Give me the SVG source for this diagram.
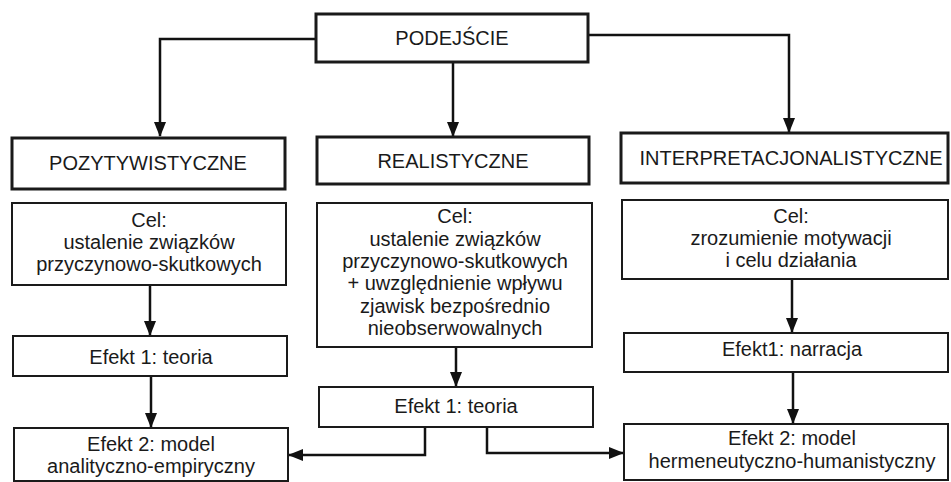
<svg xmlns="http://www.w3.org/2000/svg" width="951" height="482" viewBox="0 0 951 482">
<defs>
<marker id="ah" markerWidth="15" markerHeight="12" refX="14" refY="6" orient="auto" markerUnits="userSpaceOnUse" viewBox="0 0 15 12">
<path d="M0,0 L15,6 L0,12 Z" fill="#111"/>
</marker>
<style>
.box{fill:#fff;stroke:#1a1a1a;stroke-width:2}
.top{fill:#fff;stroke:#1a1a1a;stroke-width:3}
.t{font-family:"Liberation Sans",Arial,sans-serif;font-size:20px;fill:#1a1a1a;text-anchor:middle}
.c{fill:none;stroke:#111;stroke-width:2.5}
</style>
</defs>
<rect width="951" height="482" fill="#fff"/>
<g id="connectors">
<path class="c" d="M316,39 H160 V136" marker-end="url(#ah)"/>
<path class="c" d="M453,62 V136" marker-end="url(#ah)"/>
<path class="c" d="M588,35 H789 V132" marker-end="url(#ah)"/>
<path class="c" d="M150,285 V335" marker-end="url(#ah)"/>
<path class="c" d="M151,376 V427" marker-end="url(#ah)"/>
<path class="c" d="M456,347 V386" marker-end="url(#ah)"/>
<path class="c" d="M792,279 V332" marker-end="url(#ah)"/>
<path class="c" d="M793,372 V423" marker-end="url(#ah)"/>
<path class="c" d="M425,427 V455 H289" marker-end="url(#ah)"/>
<path class="c" d="M487,427 V453 H623" marker-end="url(#ah)"/>
</g>
<g id="podejscie">
<rect class="top" x="316" y="14" width="272" height="48"/>
<text class="t" x="452" y="45">PODEJŚCIE</text>
</g>
<g id="pozytywistyczne">
<rect class="top" x="12" y="138" width="273" height="51"/>
<text class="t" x="148" y="170">POZYTYWISTYCZNE</text>
</g>
<g id="realistyczne">
<rect class="top" x="317" y="137" width="272" height="47"/>
<text class="t" x="453" y="168">REALISTYCZNE</text>
</g>
<g id="interpretacjonalistyczne">
<rect class="top" x="621" y="133" width="327" height="50"/>
<text class="t" x="791" y="165">INTERPRETACJONALISTYCZNE</text>
</g>
<g id="cel-poz">
<rect class="box" x="12" y="203" width="274" height="82"/>
<text class="t" x="149" y="227">Cel:</text>
<text class="t" x="149" y="249">ustalenie związków</text>
<text class="t" x="149" y="271">przyczynowo-skutkowych</text>
</g>
<g id="cel-real">
<rect class="box" x="317" y="203" width="275" height="144"/>
<text class="t" x="455" y="223">Cel:</text>
<text class="t" x="455" y="246">ustalenie związków</text>
<text class="t" x="455" y="268">przyczynowo-skutkowych</text>
<text class="t" x="455" y="290">+ uwzględnienie wpływu</text>
<text class="t" x="455" y="313">zjawisk bezpośrednio</text>
<text class="t" x="455" y="335">nieobserwowalnych</text>
</g>
<g id="cel-int">
<rect class="box" x="622" y="200" width="326" height="79"/>
<text class="t" x="791" y="223">Cel:</text>
<text class="t" x="791" y="245">zrozumienie motywacji</text>
<text class="t" x="791" y="267">i celu działania</text>
</g>
<g id="efekt1-poz">
<rect class="box" x="13" y="336" width="274" height="40"/>
<text class="t" x="151" y="364">Efekt 1: teoria</text>
</g>
<g id="efekt1-real">
<rect class="box" x="319" y="387" width="274" height="40"/>
<text class="t" x="456" y="413">Efekt 1: teoria</text>
</g>
<g id="efekt1-int">
<rect class="box" x="624" y="333" width="324" height="39"/>
<text class="t" x="792" y="356">Efekt1: narracja</text>
</g>
<g id="efekt2-poz">
<rect class="box" x="14" y="428" width="274" height="53"/>
<text class="t" x="151" y="451">Efekt 2: model</text>
<text class="t" x="151" y="473">analityczno-empiryczny</text>
</g>
<g id="efekt2-int">
<rect class="box" x="624" y="424" width="324" height="56"/>
<text class="t" x="792" y="445">Efekt 2: model</text>
<text class="t" x="792" y="468">hermeneutyczno-humanistyczny</text>
</g>
</svg>
